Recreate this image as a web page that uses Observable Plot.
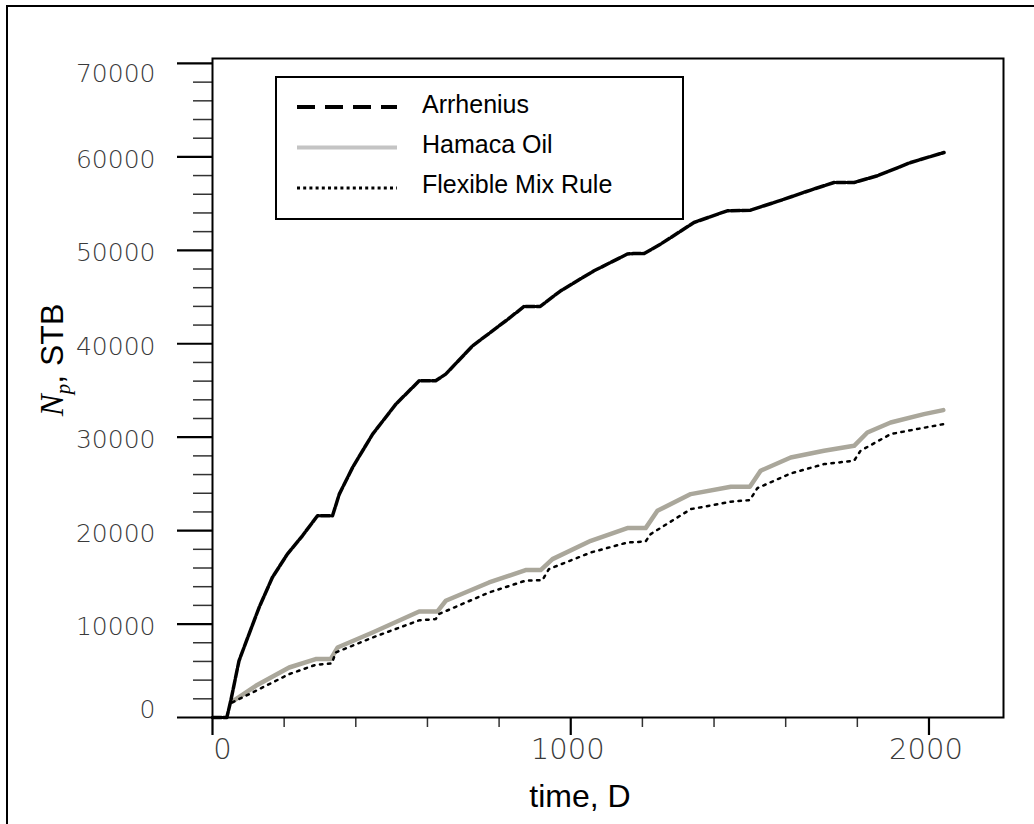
<!DOCTYPE html>
<html><head><meta charset="utf-8">
<script src="https://cdn.jsdelivr.net/npm/d3@7"></script>
<script src="https://cdn.jsdelivr.net/npm/@observablehq/plot@0.6"></script>
<style>
body{margin:0;background:#fff;}
#wrap{position:relative;width:1034px;height:824px;overflow:hidden;background:#fff;}
#outer{position:absolute;left:6px;top:5px;width:1100px;height:900px;border:2px solid #000;pointer-events:none;}
</style></head><body><div id="wrap"><div id="outer"></div></div>
<script>
// ---- data ----
const seriesNames = ["Arrhenius", "Hamaca Oil", "Flexible Mix Rule"];

const arrT = [0, 40, 51, 74, 102, 130, 167, 209, 251, 293, 335, 354, 391, 447, 512, 577, 623, 651, 726, 819, 870, 915, 972, 1065, 1158, 1175, 1205, 1251, 1344, 1437, 1502, 1577, 1670, 1735, 1791, 1856, 1949, 2042];
const arrN = [0, 0, 1790, 6070, 8930, 11770, 14980, 17490, 19450, 21590, 21590, 23910, 26760, 30330, 33540, 36040, 36040, 36750, 39780, 42460, 44000, 44000, 45670, 47810, 49600, 49660, 49660, 50670, 52980, 54230, 54300, 55230, 56450, 57260, 57260, 57980, 59400, 60470];

const hamT = [55, 121, 214, 288, 330, 349, 447, 577, 628, 651, 772, 874, 916, 949, 1056, 1158, 1209, 1242, 1335, 1447, 1500, 1530, 1614, 1707, 1791, 1828, 1893, 1986, 2040];
const hamN = [1700, 3390, 5350, 6250, 6250, 7490, 9100, 11350, 11350, 12490, 14450, 15780, 15780, 16950, 18910, 20270, 20270, 22120, 23910, 24690, 24690, 26410, 27830, 28550, 29080, 30500, 31570, 32470, 32900];

const flexT = [55, 121, 214, 288, 333, 344, 447, 577, 623, 632, 772, 874, 921, 939, 1056, 1158, 1209, 1223, 1335, 1447, 1500, 1521, 1614, 1707, 1791, 1809, 1893, 2040];
const flexN = [1610, 2860, 4640, 5640, 5780, 6960, 8560, 10400, 10530, 11070, 13380, 14650, 14710, 15880, 17660, 18730, 18840, 19630, 22300, 23090, 23270, 24550, 26120, 27120, 27480, 28550, 30330, 31400];

const yMajor = [0, 10000, 20000, 30000, 40000, 50000, 60000, 70000];
const yMinor = d3.range(2000, 70000, 2000).filter(v => v % 10000 !== 0);
const xMajor = [0, 1000, 2000];
const xMinor = [200, 400, 600, 800, 1200, 1400, 1600, 1800];

// ---- build tables ----
const toRows = (ts, ns) => ts.map((t, i) => ({t, n: ns[i]}));
const arrData = toRows(arrT, arrN);
const hamData = toRows(hamT, hamN);
const flexData = toRows(flexT, flexN);

const tickFont = "'DejaVu Sans ExtraLight', 'DejaVu Sans', sans-serif";
const fmt = d => String(d);
const tickText = {tickSize: 0, tickFormat: fmt, fontFamily: tickFont, fontWeight: 200, fill: "#3a3a3a", label: null};

const chart = Plot.plot({
  width: 1034, height: 824,
  marginLeft: 212, marginRight: 31, marginTop: 58, marginBottom: 107,
  x: {domain: [0, 2208], label: null},
  y: {domain: [0, 70530], label: null},
  style: {background: "transparent", overflow: "visible"},
  marks: [
    Plot.line(hamData, {x: "t", y: "n", stroke: "#aaa79b", strokeWidth: 4.5, strokeLinejoin: "round"}),
    Plot.line(flexData, {x: "t", y: "n", stroke: "#000", strokeWidth: 2.5, strokeDasharray: "2.5,5.5"}),
    Plot.line(arrData, {x: "t", y: "n", stroke: "#000", strokeWidth: 3.5, strokeDasharray: "9,2", strokeLinejoin: "round"}),
    // y ticks
    Plot.axisY(yMinor, {tickSize: 19, text: null, label: null, stroke: "#333", strokeWidth: 1.5}),
    Plot.axisY(yMajor, {tickSize: 35, text: null, label: null, stroke: "#000", strokeWidth: 2.2}),
    Plot.axisY(yMajor.filter(v => v !== 0 && v !== 70000), {...tickText, tickPadding: 57, dy: 3, fontSize: 25}),
    Plot.axisY(yMajor.filter(v => v === 0), {...tickText, tickPadding: 57, dy: -8, fontSize: 25}),
    Plot.axisY(yMajor.filter(v => v === 70000), {...tickText, tickPadding: 57, dy: 11, fontSize: 25}),
    // x ticks
    Plot.axisX(xMinor, {tickSize: 10, text: null, label: null, stroke: "#333", strokeWidth: 1.5}),
    Plot.axisX(xMajor, {tickSize: 18, text: null, label: null, stroke: "#000", strokeWidth: 2.2}),
    Plot.axisX(xMajor.filter(v => v === 0), {...tickText, tickPadding: 21, dx: 10, fontSize: 29}),
    Plot.axisX(xMajor.filter(v => v !== 0), {...tickText, tickPadding: 21, dx: -3, fontSize: 29}),
    Plot.frame({stroke: "#000", strokeWidth: 2})
  ]
});

document.getElementById("wrap").insertBefore(chart, document.getElementById("outer"));
const svg = d3.select(chart);

// axis titles
svg.append("text")
  .attr("x", 580).attr("y", 807)
  .attr("text-anchor", "middle")
  .style("font-family", "'Liberation Sans', Arial, sans-serif")
  .style("font-size", "32px").attr("fill", "#000")
  .text("time, D");

const yt = svg.append("text")
  .attr("transform", "translate(63,360) rotate(-90)")
  .attr("text-anchor", "middle")
  .attr("fill", "#000");
yt.append("tspan").style("font-family", "'Liberation Serif', 'Times New Roman', serif")
  .style("font-style", "italic").style("font-size", "33px").text("N");
yt.append("tspan").style("font-family", "'Liberation Serif', 'Times New Roman', serif")
  .style("font-style", "italic").style("font-size", "21px").attr("dy", 7).text("p");
yt.append("tspan").style("font-family", "'Liberation Sans', Arial, sans-serif")
  .style("font-size", "32px").attr("dy", -7).text(", STB");

// legend
const legendStyles = [
  {stroke: "#000", width: 4, dash: "18,10"},
  {stroke: "#c4c4c4", width: 4, dash: null},
  {stroke: "#000", width: 3, dash: "3,3.2"}
];
const lg = svg.append("g").attr("text-anchor", "start");
lg.append("rect").attr("x", 276).attr("y", 77).attr("width", 407).attr("height", 142)
  .attr("fill", "#fff").attr("stroke", "#000").attr("stroke-width", 2);
seriesNames.forEach((name, i) => {
  const s = legendStyles[i];
  const cy = 107 + i * 40.5;
  const l = lg.append("line").attr("x1", 297).attr("x2", 397).attr("y1", cy).attr("y2", cy)
    .attr("stroke", s.stroke).attr("stroke-width", s.width);
  if (s.dash) l.attr("stroke-dasharray", s.dash);
  lg.append("text").attr("x", 422).attr("y", 113 + i * 40)
    .attr("text-anchor", "start")
    .style("font-family", "'Liberation Sans', Arial, sans-serif").style("font-size", "25px")
    .attr("fill", "#000").text(name);
});
</script>
</body></html>
